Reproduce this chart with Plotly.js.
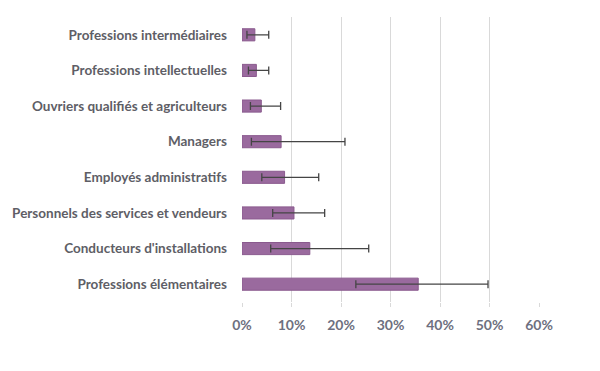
<!DOCTYPE html>
<html>
<head>
<meta charset="utf-8">
<script src="https://cdn.plot.ly/plotly-3.0.1.min.js"></script>
<style>
html,body{margin:0;padding:0;background:#fff;}
#chart{width:600px;height:371px;}
</style>
</head>
<body>
<div id="chart"></div>
<script>
const categories = [
  "Professions intermédiaires",
  "Professions intellectuelles",
  "Ouvriers qualifiés et agriculteurs",
  "Managers",
  "Employés administratifs",
  "Personnels des services et vendeurs",
  "Conducteurs d'installations",
  "Professions élémentaires"
];
const values = [0.026, 0.029, 0.039, 0.079, 0.086, 0.105, 0.137, 0.356];
const lowBounds = [0.010, 0.013, 0.017, 0.019, 0.040, 0.062, 0.058, 0.230];
const highBounds = [0.054, 0.054, 0.078, 0.208, 0.155, 0.167, 0.256, 0.497];
const tickVals = [0, 0.1, 0.2, 0.3, 0.4, 0.5, 0.6];
const tickLabels = ["0%", "10%", "20%", "30%", "40%", "50%", "60%"];

const plus = values.map((v, i) => highBounds[i] - v);
const minus = values.map((v, i) => v - lowBounds[i]);

const fam = "Lato, 'Open Sans', sans-serif";

Plotly.newPlot("chart", [{
  type: "bar",
  orientation: "h",
  y: categories,
  x: values,
  marker: {color: "#9a6a9e", line: {color: "#8a5a8e", width: 1}},
  width: 0.34,
  error_x: {
    type: "data",
    symmetric: false,
    array: plus,
    arrayminus: minus,
    color: "#454545",
    thickness: 1.3,
    width: 4
  },
  hoverinfo: "none"
}], {
  width: 600,
  height: 371,
  margin: {l: 242, r: 61, t: 17, b: 69},
  paper_bgcolor: "#ffffff",
  plot_bgcolor: "#ffffff",
  showlegend: false,
  font: {family: fam, size: 13, color: "#5e5e66"},
  xaxis: {
    range: [0, 0.6],
    tickvals: tickVals,
    ticktext: tickLabels,
    showgrid: true,
    gridcolor: "#d9d9d9",
    gridwidth: 1,
    zeroline: false,
    showline: false,
    ticks: "outside",
    ticklen: 4,
    tickcolor: "#d9d9d9",
    tickfont: {family: fam, size: 14, color: "#6e7080", weight: "bold"},
    ticklabelstandoff: 6
  },
  yaxis: {
    autorange: "reversed",
    showgrid: false,
    zeroline: false,
    showline: false,
    ticks: "",
    ticklabelstandoff: 14,
    tickfont: {family: fam, size: 13.5, color: "#5e5e66", weight: "bold"}
  }
}, {displayModeBar: false, staticPlot: true});
</script>
</body>
</html>
